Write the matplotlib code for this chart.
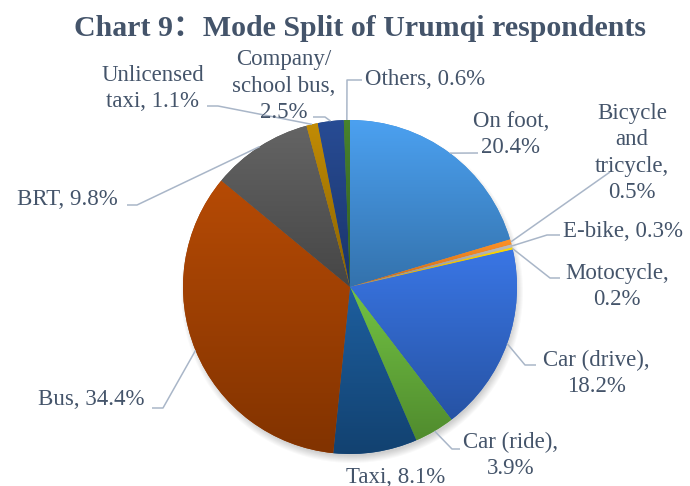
import numpy as np
import matplotlib
matplotlib.use("Agg")
import matplotlib.pyplot as plt
from matplotlib.colors import to_rgb

# data
modes = ['On foot', 'Bicycle and tricycle', 'E-bike', 'Motocycle', 'Car (drive)',
         'Car (ride)', 'Taxi', 'Bus', 'BRT', 'Unlicensed taxi',
         'Company/school bus', 'Others']
shares = [20.4, 0.5, 0.3, 0.2, 18.2, 3.9, 8.1, 34.4, 9.8, 1.1, 2.5, 0.6]
label_texts = ['On foot,\n20.4%', 'Bicycle\nand\ntricycle,\n0.5%', 'E-bike, 0.3%',
               'Motocycle,\n0.2%', 'Car (drive),\n18.2%', 'Car (ride),\n3.9%',
               'Taxi, 8.1%', 'Bus, 34.4%', 'BRT, 9.8%', 'Unlicensed\ntaxi, 1.1%',
               'Company/\nschool bus,\n2.5%', 'Others, 0.6%']
colors = ['#3f8bd2', '#ef7e1e', '#a5a5a5', '#ffc000', '#2f65c8', '#62aa38',
          '#165089', '#9e3e00', '#555555', '#a87800', '#1f3f80', '#3c7024']

# layout (image pixel coords, y from top; y = baseline of the last line)
W, H = 690, 486
cx, cy, rad = 350, 287, 167
label_pos = [(511, 153, 'center'), (632, 198, 'center'), (563, 237, 'left'),
             (617, 305, 'center'), (596, 392, 'center'), (511, 474, 'center'),
             (396, 483, 'center'), (91, 405, 'center'), (67, 205, 'center'),
             (153, 107, 'center'), (284, 118, 'center'), (365, 85, 'left')]
leader_pts = [[(478, 153)], [(610, 172)], [(547, 235), (560, 235)],
              [(550, 278), (560, 278)], [(525, 365), (536, 365)],
              [(452, 449), (460, 449)], None, [(163, 408), (152, 408)],
              [(137, 205), (127, 205)], [(218, 106), (207, 106)],
              [(325, 117), (313, 117)], [(347, 80), (362, 80)]]

text_color = '#44546a'
line_color = '#a9b6c8'
fonts = ['Liberation Serif', 'Noto Sans CJK SC']

fig = plt.figure(figsize=(W / 100, H / 100), dpi=100)
ax = fig.add_axes([0, 0, 1, 1])

wedges, _ = ax.pie(shares, colors=colors, startangle=90, counterclock=False,
                   center=(cx, H - cy), radius=rad, frame=True,
                   wedgeprops=dict(linewidth=0))

# soft shadow under the pie
for k in range(8):
    sh = plt.Circle((cx + 2, H - cy - 5), rad + 4 - k, color='black',
                    alpha=0.025, zorder=0.5, lw=0)
    ax.add_patch(sh)

# vertical gradient inside each slice (lighter top, darker bottom)
grad = np.linspace(0, 1, 128)[:, None]
for w, c in zip(wedges, colors):
    base = np.array(to_rgb(c))
    top = np.clip(base * 1.12 + 0.02, 0, 1)
    bot = base * 0.82
    img = top[None, None, :] * (1 - grad[..., None]) + bot[None, None, :] * grad[..., None]
    img = np.repeat(img, 2, axis=1)
    bb = w.get_path().get_extents()
    im = ax.imshow(img, extent=(bb.x0, bb.x1, bb.y0, bb.y1), origin='upper',
                   aspect='auto', zorder=2, interpolation='bilinear')
    im.set_clip_path(w)

# leader lines
for w, pts in zip(wedges, leader_pts):
    if pts is None:
        continue
    ang = np.deg2rad((w.theta1 + w.theta2) / 2)
    xs = [cx + rad * np.cos(ang)] + [p[0] for p in pts]
    ys = [H - cy + rad * np.sin(ang)] + [H - p[1] for p in pts]
    ax.plot(xs, ys, color=line_color, lw=1.1, zorder=3, solid_capstyle='butt')

# labels
for txt, (x, y, ha) in zip(label_texts, label_pos):
    ax.text(x, H - y, txt, ha=ha, va='baseline', multialignment='center',
            fontsize=16.5, color=text_color, family=fonts, linespacing=1.33,
            zorder=4)

ax.text(360, H - 36, 'Chart 9：Mode Split of Urumqi respondents', ha='center',
        va='baseline', fontsize=21.5, fontweight='bold', color=text_color,
        family=fonts)

ax.set_xlim(0, W)
ax.set_ylim(0, H)
ax.set_aspect('equal')
ax.axis('off')

plt.savefig('out.png', dpi=100)
